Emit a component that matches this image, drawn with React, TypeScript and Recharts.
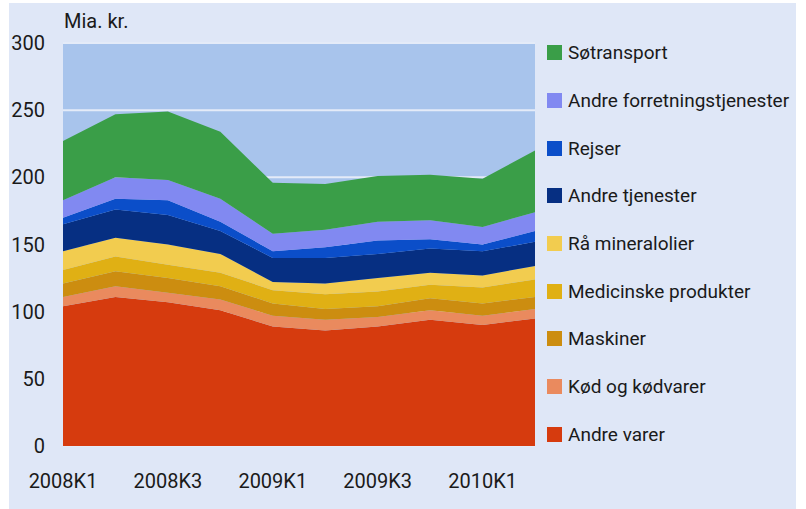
import React from 'react';
import {
    Area,
    AreaChart,
    CartesianGrid,
    XAxis,
    YAxis,
} from 'recharts';

const quarters = ['2008K1', '2008K2', '2008K3', '2008K4', '2009K1', '2009K2', '2009K3', '2009K4', '2010K1', '2010K2'];

// values in mia. kr., bottom of the stack first
const andreVarer = [104, 111, 107, 101, 89, 86, 89, 94, 90, 95];
const kodOgKodvarer = [7, 8, 7, 8, 8, 8, 7, 7, 7, 7];
const maskiner = [10, 11, 11, 10, 9, 8, 8, 9, 9, 9];
const medicinskeProdukter = [10, 11, 10, 10, 10, 11, 11, 10, 12, 13];
const raaMineralolier = [14, 14, 15, 14, 6, 8, 10, 9, 9, 10];
const andreTjenester = [20, 21, 22, 17, 18, 19, 18, 18, 18, 18];
const rejser = [5, 8, 11, 7, 5, 8, 10, 7, 5, 8];
const andreForretning = [13, 16, 15, 17, 13, 13, 14, 14, 13, 14];
const sotransport = [44, 47, 51, 50, 38, 34, 34, 34, 36, 46];

const yTicks = [0, 50, 100, 150, 200, 250, 300];

const series = [
    { key: 'andreVarer', name: 'Andre varer', color: '#d63b0e', values: andreVarer },
    { key: 'kod', name: 'Kød og kødvarer', color: '#ea8a5e', values: kodOgKodvarer },
    { key: 'maskiner', name: 'Maskiner', color: '#cc8d10', values: maskiner },
    { key: 'medicin', name: 'Medicinske produkter', color: '#e0b014', values: medicinskeProdukter },
    { key: 'raa', name: 'Rå mineralolier', color: '#f2cc4f', values: raaMineralolier },
    { key: 'andreTj', name: 'Andre tjenester', color: '#062f82', values: andreTjenester },
    { key: 'rejser', name: 'Rejser', color: '#0b4ec9', values: rejser },
    { key: 'andreForr', name: 'Andre forretningstjenester', color: '#8189f1', values: andreForretning },
    { key: 'sotransport', name: 'Søtransport', color: '#3a9e48', values: sotransport },
];

const data = quarters.map((q, i) => {
    const row: any = { q };
    series.forEach((s) => {
        row[s.key] = s.values[i];
    });
    return row;
});

const FONT = 'Roboto, "DejaVu Sans", sans-serif';
const TEXT = '#1a1a1a';

function LegendList() {
    const items = [...series].reverse();
    return (
        <div style={{ position: 'absolute', left: 547, top: 29, fontFamily: FONT }}>
            {items.map((s) => (
                <div key={s.key} style={{ display: 'flex', alignItems: 'center', height: 47.7 }}>
                    <div style={{ width: 15, height: 15, background: s.color, marginRight: 6 }} />
                    <span style={{ fontSize: 19, color: TEXT, whiteSpace: 'nowrap' }}>{s.name}</span>
                </div>
            ))}
        </div>
    );
}

export default function App() {
    return (
        <div style={{ position: 'absolute', left: 0, top: 0, width: 806, height: 509, background: '#fff' }}>
            <div style={{ position: 'absolute', left: 9, top: 3, width: 787, height: 506, background: '#dfe7f7' }} />
            <div style={{ position: 'absolute', left: 64, top: 9, fontFamily: FONT, fontSize: 20, color: TEXT }}>Mia. kr.</div>
            <div style={{ position: 'absolute', left: 0, top: 0 }}>
                <AreaChart
                    width={806}
                    height={509}
                    data={data}
                    margin={{ top: 43, right: 271, bottom: 0, left: 13 }}
                >
                    <CartesianGrid horizontal vertical={false} fill="#a8c4ec" stroke="#e4ebf8" strokeWidth={2} />
                    <XAxis
                        dataKey="q"
                        interval={1}
                        tickLine={false}
                        axisLine={false}
                        tickSize={0}
                        tickMargin={28}
                        tick={{ fontSize: 20, fill: TEXT, fontFamily: FONT }}
                        height={63}
                    />
                    <YAxis
                        domain={[0, 300]}
                        ticks={yTicks}
                        width={50}
                        tickLine={false}
                        axisLine={false}
                        tickSize={0}
                        tickMargin={18}
                        tick={{ fontSize: 20, fill: TEXT, fontFamily: FONT }}
                    />
                    {series.map((s) => (
                        <Area
                            key={s.key}
                            type="linear"
                            dataKey={s.key}
                            name={s.name}
                            stackId="1"
                            stroke="none"
                            fill={s.color}
                            fillOpacity={1}
                            isAnimationActive={false}
                        />
                    ))}
                </AreaChart>
            </div>
            <LegendList />
        </div>
    );
}
